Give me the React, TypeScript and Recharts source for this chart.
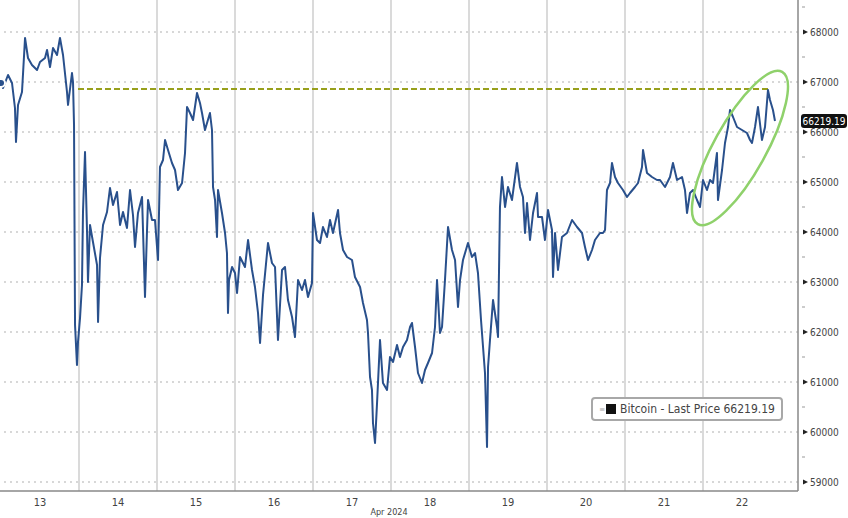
import React from 'react';
import { LineChart, Line, XAxis, YAxis, ReferenceLine, ReferenceDot } from 'recharts';

// time in days since Apr 13 00:00, price in USD
const times = [
  0, 0.026, 0.09, 0.141, 0.179, 0.192, 0.218, 0.269, 0.308, 0.346, 0.397, 0.462, 0.5, 0.564, 0.59, 0.628,
  0.667, 0.718, 0.756, 0.795, 0.846, 0.859, 0.91, 0.923, 0.936, 0.949, 0.974, 0.987, 1.013, 1.038, 1.051,
  1.077, 1.103, 1.115, 1.141, 1.179, 1.231, 1.244, 1.269, 1.308, 1.359, 1.397, 1.436, 1.487, 1.526, 1.564,
  1.615, 1.654, 1.692, 1.718, 1.756, 1.808, 1.846, 1.872, 1.885, 1.936, 1.974, 2.013, 2.038, 2.077, 2.103,
  2.141, 2.192, 2.231, 2.269, 2.321, 2.359, 2.385, 2.423, 2.462, 2.513, 2.551, 2.577, 2.615, 2.679, 2.705,
  2.718, 2.744, 2.769, 2.782, 2.833, 2.872, 2.897, 2.91, 2.923, 2.962, 3.0, 3.026, 3.064, 3.128, 3.167,
  3.218, 3.256, 3.295, 3.321, 3.359, 3.423, 3.474, 3.513, 3.551, 3.603, 3.641, 3.679, 3.731, 3.769, 3.808,
  3.859, 3.897, 3.936, 3.987, 4.0, 4.051, 4.09, 4.128, 4.179, 4.218, 4.256, 4.321, 4.346, 4.385, 4.436,
  4.5, 4.538, 4.603, 4.641, 4.692, 4.705, 4.731, 4.756, 4.769, 4.795, 4.821, 4.859, 4.897, 4.949, 4.987,
  5.026, 5.077, 5.115, 5.154, 5.205, 5.244, 5.269, 5.308, 5.346, 5.397, 5.436, 5.474, 5.526, 5.564, 5.59,
  5.628, 5.654, 5.692, 5.731, 5.782, 5.821, 5.859, 5.885, 5.923, 5.987, 6.038, 6.077, 6.115, 6.154, 6.205,
  6.231, 6.244, 6.269, 6.308, 6.359, 6.372, 6.397, 6.423, 6.462, 6.5, 6.551, 6.615, 6.654, 6.692, 6.718,
  6.744, 6.782, 6.821, 6.872, 6.885, 6.936, 6.974, 7.013, 7.064, 7.077, 7.103, 7.141, 7.192, 7.256, 7.321,
  7.385, 7.449, 7.487, 7.526, 7.577, 7.615, 7.679, 7.718, 7.744, 7.769, 7.808, 7.833, 7.872, 7.91, 7.974,
  8.026, 8.064, 8.128, 8.167, 8.218, 8.231, 8.282, 8.346, 8.41, 8.449, 8.513, 8.577, 8.615, 8.667, 8.731,
  8.769, 8.795, 8.833, 8.872, 8.923, 8.962, 9.0, 9.051, 9.09, 9.128, 9.179, 9.192, 9.244, 9.282, 9.321,
  9.346, 9.385, 9.436, 9.5, 9.564, 9.603, 9.628, 9.667, 9.705, 9.756, 9.795, 9.833, 9.859, 9.897, 9.923,
];

const prices = [
  66980, 66880, 67140, 66980, 66480, 65800, 66540, 66800, 67880, 67480, 67340, 67240, 67400, 67480, 67640, 67300,
  67680, 67540, 67880, 67540, 66800, 66540, 67180, 67000, 66140, 62140, 61340, 61800, 62280, 62940, 64400,
  65600, 64000, 63000, 64140, 63800, 63340, 62200, 63480, 64140, 64400, 64880, 64540, 64800, 64140, 64400,
  64080, 64840, 64340, 63700, 64380, 64700, 62700, 64040, 64640, 64240, 64240, 63440, 65300, 65440, 65840,
  65640, 65380, 65240, 64840, 64980, 65580, 66500, 66380, 66240, 66780, 66580, 66380, 66040, 66380, 66040,
  64900, 64640, 63900, 64840, 64380, 63980, 63580, 62380, 63040, 63300, 63180, 62780, 63500, 63300, 63840,
  63240, 62900, 62380, 61780, 62740, 63780, 63380, 63300, 61840, 63240, 63300, 62640, 62300, 61900, 63040,
  62840, 63040, 62700, 62980, 64380, 63840, 63780, 64100, 63900, 64240, 63980, 64440, 63980, 63640, 63500,
  63440, 63100, 62900, 62580, 62240, 61980, 61100, 60840, 60180, 59780, 60580, 61840, 60980, 60840, 61500,
  61400, 61740, 61500, 61700, 61840, 62100, 62180, 61700, 61180, 60980, 61240, 61380, 61580, 62100, 63040,
  61980, 62100, 63040, 64100, 63640, 63440, 62500, 63040, 63440, 63780, 63500, 63580, 63180, 62240, 61180,
  59700, 61300, 61840, 62640, 62100, 61900, 64500, 65100, 64500, 64900, 64640, 65380, 64900, 64700, 63980,
  64580, 63840, 64380, 64780, 64300, 64300, 63840, 64440, 64040, 63100, 63980, 63240, 63900, 63980, 64240,
  64100, 63980, 63700, 63440, 63640, 63840, 63980, 63980, 64040, 64840, 64980, 65380, 65100, 64980, 64840,
  64700, 64780, 64900, 64980, 65300, 65640, 65180, 65100, 65040, 65040, 64900, 65100, 65380, 65040, 65100,
  64840, 64380, 64780, 64840, 64640, 64500, 65040, 64840, 65040, 64980, 65580, 64640, 65240, 65780, 66100,
  66440, 66300, 66100, 66040, 65980, 65840, 65780, 66100, 66500, 65840, 66100, 66840, 66640, 66440, 66219.19,
];

const dayLabels = ['13', '14', '15', '16', '17', '18', '19', '20', '21', '22'];
const dayTicks = [0.5, 1.5, 2.5, 3.5, 4.5, 5.5, 6.5, 7.5, 8.5, 9.5];
const dayBounds = [1, 2, 3, 4, 5, 6, 7, 8, 9];
const priceTicks = [59000, 60000, 61000, 62000, 63000, 64000, 65000, 66000, 67000, 68000];
const lastPrice = 66219.19;
const resistance = 66860;

const data = times.map((t, i) => ({ t, price: prices[i] }));

const FONT = "'Liberation Sans Narrow', 'DejaVu Sans Condensed', 'Liberation Sans', sans-serif";

const YTick = (props: any) => {
  const { x, y, payload } = props;
  return (
    <g>
      <polygon points={`${x - 3},${y - 2.5} ${x + 2},${y} ${x - 3},${y + 2.5}`} fill="#222" />
      <line x1={x - 4} x2={x - 1} y1={y - 25} y2={y - 25} stroke="#999" />
      <text x={x + 4} y={y + 3.5} fontSize={10} fill="#444" fontFamily={FONT}>
        {payload.value}
      </text>
    </g>
  );
};

const PriceTag = (props: any) => {
  const { viewBox } = props;
  const x = viewBox.x + viewBox.width + 3;
  const y = viewBox.y;
  return (
    <g>
      <rect x={x} y={y - 7} width={46} height={14} rx={3} fill="#111" />
      <text x={x + 23} y={y + 3.5} fontSize={10} fill="#fff" textAnchor="middle" fontFamily={FONT}>
        {lastPrice.toFixed(2)}
      </text>
    </g>
  );
};

const Ellipse = (props: any) => {
  const { cx, cy } = props;
  return (
    <ellipse
      cx={cx}
      cy={cy}
      rx={87}
      ry={26}
      fill="none"
      stroke="#8fd16b"
      strokeWidth={2.5}
      transform={`rotate(-61 ${cx} ${cy})`}
    />
  );
};

export default function App() {
  return (
    <div style={{ position: 'absolute', left: 0, top: 0, width: 848, height: 518, background: '#fff' }}>
      <LineChart width={848} height={518} data={data} margin={{ top: 0, right: 0, left: 0, bottom: 0 }}>
        <XAxis
          dataKey="t"
          type="number"
          domain={[-0.013, 10.218]}
          ticks={dayTicks}
          tickFormatter={(v: number) => dayLabels[dayTicks.indexOf(v)]}
          tickLine={false}
          axisLine={{ stroke: '#888', strokeWidth: 1.5 }}
          height={27}
          tick={{ fontSize: 11, fill: '#444', fontFamily: FONT }}
          tickMargin={1}
          label={{ value: 'Apr 2024', position: 'insideBottom', offset: 3, dx: -10, fontSize: 9, fill: '#444', fontFamily: FONT }}
          allowDataOverflow
        />
        <YAxis
          orientation="right"
          type="number"
          domain={[58820, 68640]}
          ticks={priceTicks}
          tick={<YTick />}
          tickLine={false}
          axisLine={{ stroke: '#888', strokeWidth: 1.5 }}
          width={50}
          allowDataOverflow
        />
        {priceTicks.map((p) => (
          <ReferenceLine key={p} y={p} stroke="#b0b0b0" strokeDasharray="2 4" strokeWidth={1.2} />
        ))}
        {dayBounds.map((d) => (
          <ReferenceLine key={d} x={d} stroke="#dadada" strokeWidth={2} />
        ))}
        <ReferenceLine
          segment={[{ x: 0.987, y: resistance }, { x: 9.85, y: resistance }]}
          stroke="#98a01c"
          strokeWidth={2}
          strokeDasharray="6 3"
        />
        <Line
          dataKey="price"
          stroke="#29508c"
          strokeWidth={2}
          dot={false}
          isAnimationActive={false}
          strokeLinejoin="round"
        />
        <ReferenceLine y={lastPrice} stroke="none" ifOverflow="visible" label={<PriceTag />} />
        <ReferenceDot x={9.474} y={65680} ifOverflow="visible" shape={<Ellipse />} />
      </LineChart>
      <div
        style={{
          position: 'absolute',
          left: 591,
          top: 397,
          border: '2px solid #a8a8a8',
          borderRadius: 4,
          background: '#fff',
          padding: '3px 6px',
          fontFamily: FONT,
          fontSize: 12,
          color: '#444',
          display: 'flex',
          alignItems: 'center',
          whiteSpace: 'nowrap',
        }}
      >
        <span style={{ color: '#aaa', fontSize: 8, marginRight: 1 }}>≡</span>
        <span style={{ display: 'inline-block', width: 10, height: 10, background: '#111', marginRight: 4 }} />
        Bitcoin - Last Price {lastPrice.toFixed(2)}
      </div>
    </div>
  );
}
